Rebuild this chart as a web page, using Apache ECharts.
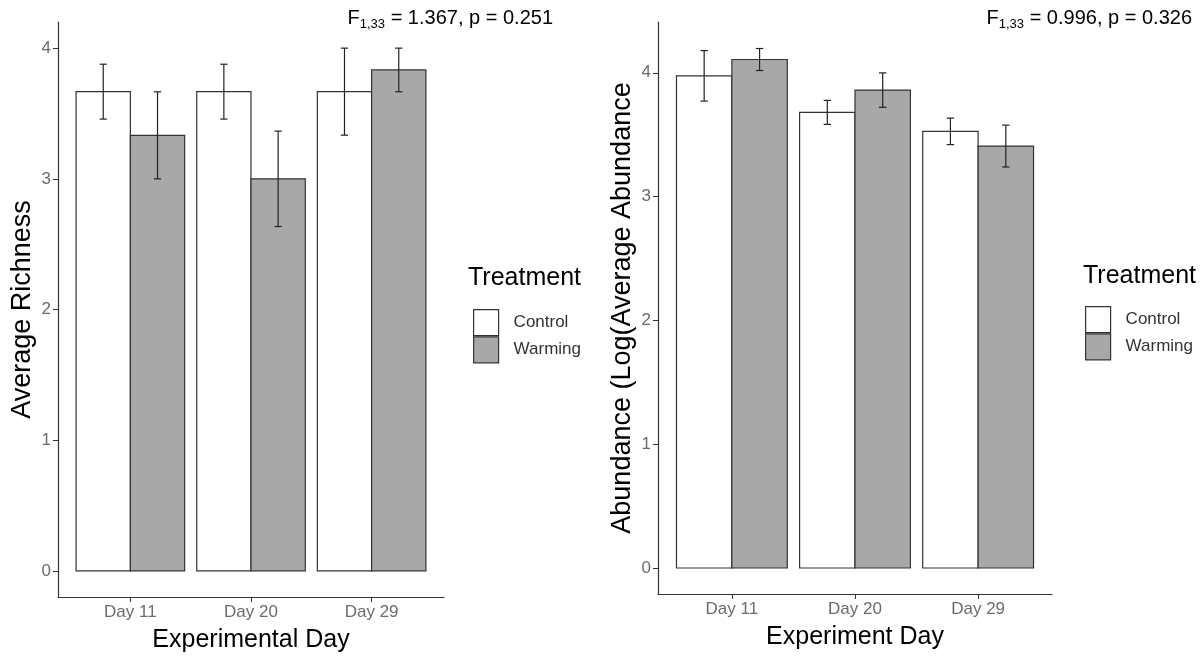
<!DOCTYPE html>
<html>
<head>
<meta charset="utf-8">
<script src="https://cdn.jsdelivr.net/npm/echarts@6/dist/echarts.min.js"></script>
<style>
  html, body { margin: 0; padding: 0; background: #fff; }
  #main { width: 1203px; height: 658px; }
</style>
</head>
<body>
<div id="main"></div>
<script>
var days = ['Day 11', 'Day 20', 'Day 29'];
var dayIndex = [1, 2, 3];
var yTicks = [0, 1, 2, 3, 4];

// richness (left panel): mean and half-width of error bar
var richControl = [3.667, 3.667, 3.667];
var richControlErr = [0.21, 0.21, 0.333];
var richWarming = [3.333, 3.0, 3.833];
var richWarmingErr = [0.333, 0.365, 0.167];

// abundance (right panel)
var abunControl = [3.975, 3.68, 3.527];
var abunControlErr = [0.204, 0.097, 0.107];
var abunWarming = [4.107, 3.86, 3.408];
var abunWarmingErr = [0.089, 0.139, 0.169];

var FONT = 'Liberation Sans';
var GREY = '#A8A8A8';
var EDGE = '#333';

var dom = document.getElementById('main');
var myChart = echarts.init(dom);

function pack(means, errs) {
  return dayIndex.map(function (d, i) { return [d, means[i], errs[i]]; });
}

function barRender(offset) {
  return function (params, api) {
    var x = api.value(0) + offset;
    var v = api.value(1);
    var a = api.coord([x - 0.225, v]);
    var b = api.coord([x + 0.225, 0]);
    return {
      type: 'rect',
      shape: { x: a[0], y: a[1], width: b[0] - a[0], height: b[1] - a[1] },
      style: { fill: api.visual('color'), stroke: EDGE, lineWidth: 1.2 }
    };
  };
}

function errRender(offset) {
  return function (params, api) {
    var x = api.value(0) + offset;
    var m = api.value(1), e = api.value(2);
    var top = api.coord([x, m + e]);
    var bot = api.coord([x, m - e]);
    var capL = api.coord([x - 0.03, m])[0];
    var capR = api.coord([x + 0.03, m])[0];
    var st = { stroke: '#222', lineWidth: 1.2 };
    return {
      type: 'group',
      children: [
        { type: 'line', shape: { x1: top[0], y1: top[1], x2: bot[0], y2: bot[1] }, style: st },
        { type: 'line', shape: { x1: capL, y1: top[1], x2: capR, y2: top[1] }, style: st },
        { type: 'line', shape: { x1: capL, y1: bot[1], x2: capR, y2: bot[1] }, style: st }
      ]
    };
  };
}

function xAxisFor(idx, title) {
  return {
    type: 'value', gridIndex: idx, min: 0.4, max: 3.6,
    name: title, nameLocation: 'middle', nameGap: 31,
    nameTextStyle: { fontFamily: FONT, fontSize: 25, color: '#000' },
    axisLine: { onZero: false, lineStyle: { color: EDGE, width: 1.2 } },
    axisTick: { length: 5, customValues: dayIndex, lineStyle: { color: EDGE } },
    axisLabel: {
      customValues: dayIndex, margin: 7,
      fontFamily: FONT, fontSize: 17, color: '#6b6b6b',
      formatter: function (v) { return days[Math.round(v) - 1]; }
    },
    splitLine: { show: false }
  };
}

function yAxisFor(idx, title, lo, hi) {
  return {
    type: 'value', gridIndex: idx, min: lo, max: hi,
    name: title, nameLocation: 'middle', nameGap: 22, nameRotate: 90,
    nameTextStyle: { fontFamily: FONT, fontSize: 27, color: '#000' },
    axisLine: { show: true, onZero: false, lineStyle: { color: EDGE, width: 1.2 } },
    axisTick: { show: true, length: 5, customValues: yTicks, lineStyle: { color: EDGE } },
    axisLabel: { customValues: yTicks, margin: 7, fontFamily: FONT, fontSize: 17, color: '#6b6b6b' },
    splitLine: { show: false }
  };
}

function statText(stat, right) {
  return {
    right: right, top: 8, padding: 0,
    text: '{m|F}{s|1,33}{m|' + stat + '}',
    textStyle: {
      fontWeight: 'normal',
      rich: {
        m: { fontFamily: FONT, fontSize: 20, fontWeight: 'normal', color: '#000', verticalAlign: 'top' },
        s: { fontFamily: FONT, fontSize: 13, fontWeight: 'normal', color: '#000', verticalAlign: 'top', padding: [10, 0, 0, 0] }
      }
    }
  };
}

function legendFor(left, top) {
  return {
    orient: 'vertical', left: left, top: top,
    itemWidth: 25, itemHeight: 26, itemGap: 0, icon: 'rect',
    textStyle: { fontFamily: FONT, fontSize: 17, color: '#333', padding: [0, 0, 0, 10] },
    data: [
      { name: 'Control', itemStyle: { color: '#fff', borderColor: EDGE, borderWidth: 1.2 } },
      { name: 'Warming', itemStyle: { color: GREY, borderColor: EDGE, borderWidth: 1.2 } }
    ]
  };
}

function legendTitle(left, top) {
  return {
    left: left, top: top, padding: 0, text: 'Treatment',
    textStyle: { fontFamily: FONT, fontSize: 25, fontWeight: 'normal', color: '#000' }
  };
}

var option = {
  animation: false,
  backgroundColor: '#fff',
  title: [
    statText(' = 1.367, p = 0.251', 650),
    statText(' = 0.996, p = 0.326', 11),
    legendTitle(468, 266),
    legendTitle(1083, 264)
  ],
  legend: [legendFor(468, 304), legendFor(1080, 301)],
  grid: [
    { left: 58, top: 22, width: 386, height: 576 },
    { left: 658, top: 22, width: 394, height: 572 }
  ],
  xAxis: [xAxisFor(0, 'Experimental Day'), xAxisFor(1, 'Experiment Day')],
  yAxis: [
    yAxisFor(0, 'Average Richness', -0.2, 4.2),
    yAxisFor(1, 'Abundance (Log(Average Abundance', -0.21, 4.41)
  ],
  series: [
    { name: 'Control', type: 'custom', xAxisIndex: 0, yAxisIndex: 0, itemStyle: { color: '#fff' },
      renderItem: barRender(-0.225), data: pack(richControl, richControlErr) },
    { name: 'Warming', type: 'custom', xAxisIndex: 0, yAxisIndex: 0, itemStyle: { color: GREY },
      renderItem: barRender(0.225), data: pack(richWarming, richWarmingErr) },
    { name: 'errC1', type: 'custom', xAxisIndex: 0, yAxisIndex: 0, z: 5,
      renderItem: errRender(-0.225), data: pack(richControl, richControlErr) },
    { name: 'errW1', type: 'custom', xAxisIndex: 0, yAxisIndex: 0, z: 5,
      renderItem: errRender(0.225), data: pack(richWarming, richWarmingErr) },

    { name: 'Control', type: 'custom', xAxisIndex: 1, yAxisIndex: 1, itemStyle: { color: '#fff' },
      renderItem: barRender(-0.225), data: pack(abunControl, abunControlErr) },
    { name: 'Warming', type: 'custom', xAxisIndex: 1, yAxisIndex: 1, itemStyle: { color: GREY },
      renderItem: barRender(0.225), data: pack(abunWarming, abunWarmingErr) },
    { name: 'errC2', type: 'custom', xAxisIndex: 1, yAxisIndex: 1, z: 5,
      renderItem: errRender(-0.225), data: pack(abunControl, abunControlErr) },
    { name: 'errW2', type: 'custom', xAxisIndex: 1, yAxisIndex: 1, z: 5,
      renderItem: errRender(0.225), data: pack(abunWarming, abunWarmingErr) }
  ]
};

myChart.setOption(option);
</script>
</body>
</html>
